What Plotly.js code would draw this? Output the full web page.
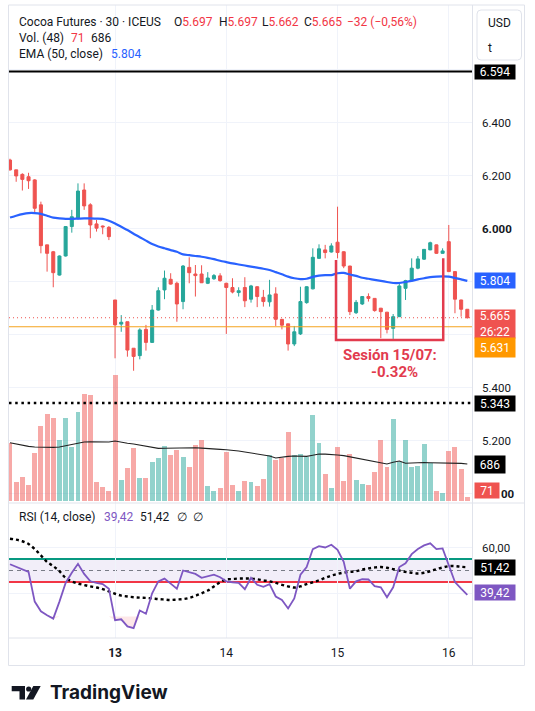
<!DOCTYPE html>
<html><head><meta charset="utf-8">
<script src="https://cdn.plot.ly/plotly-3.0.1.min.js"></script>
<style>html,body{margin:0;padding:0;background:#fff;}#chart{width:535px;height:711px;}</style>
</head><body><div id="chart"></div><script>
// ---------- DATA ----------
const barIndex = [0,1,2,3,4,5,6,7,8,9,10,11,12,13,14,15,16,17,18,19,20,21,22,23,24,25,26,27,28,29,30,31,32,33,34,35,36,37,38,39,40,41,42,43,44,45,46,47,48,49,50,51,52,53,54,55,56,57,58,59,60,61,62,63,64,65,66,67,68,69,70,71,72,73,74];
const dayTickIdx = [17, 35, 53, 71];
const dayLabels = ['13', '14', '15', '16'];

const open = [6.260,6.223,6.206,6.197,6.185,6.091,5.940,5.914,5.826,5.898,
  6.009,6.040,6.147,6.091,6.019,6.011,6.006,5.732,5.641,5.650,
  5.550,5.522,5.621,5.572,5.694,5.770,5.810,5.795,5.726,5.855,
  5.830,5.830,5.795,5.812,5.823,5.795,5.779,5.760,5.779,5.735,
  5.782,5.742,5.725,5.755,5.659,5.642,5.566,5.604,5.722,5.774,
  5.889,5.921,5.913,5.950,5.914,5.860,5.684,5.717,5.745,5.738,
  5.701,5.686,5.625,5.669,5.776,5.805,5.852,5.886,5.921,5.940,
  5.908,5.952,5.839,5.732,5.697];
const high = [6.265,6.223,6.210,6.212,6.188,6.103,5.940,5.917,5.900,6.011,
  6.072,6.172,6.172,6.097,6.034,6.013,6.011,5.732,5.675,5.650,
  5.550,5.625,5.638,5.713,5.780,5.843,5.833,5.801,5.864,5.893,
  5.864,5.863,5.837,5.830,5.833,5.797,5.814,5.780,5.818,5.789,
  5.784,5.770,5.808,5.780,5.660,5.642,5.634,5.782,5.784,5.927,
  5.942,5.940,5.946,6.084,5.916,5.861,5.732,5.747,5.757,5.739,
  5.702,5.687,5.679,5.795,5.808,5.889,5.898,5.924,5.952,5.941,
  5.927,6.015,5.840,5.733,5.697];
const low = [6.220,6.178,6.145,6.151,6.059,5.908,5.839,5.780,5.824,5.896,
  5.986,6.035,6.072,5.965,5.990,5.980,5.958,5.512,5.612,5.518,
  5.465,5.508,5.541,5.570,5.692,5.735,5.790,5.650,5.697,5.795,
  5.745,5.796,5.792,5.808,5.801,5.604,5.757,5.745,5.705,5.722,
  5.705,5.707,5.707,5.634,5.621,5.541,5.558,5.600,5.718,5.772,
  5.887,5.889,5.911,5.889,5.852,5.675,5.679,5.713,5.726,5.688,
  5.588,5.606,5.585,5.668,5.732,5.801,5.848,5.883,5.920,5.906,
  5.907,5.838,5.682,5.669,5.662];
const close = [6.223,6.200,6.187,6.182,6.078,5.937,5.908,5.835,5.898,6.009,
  6.046,6.143,6.087,6.015,6.003,6.008,5.971,5.638,5.648,5.543,
  5.519,5.619,5.572,5.694,5.767,5.814,5.792,5.717,5.860,5.835,
  5.824,5.797,5.815,5.824,5.805,5.779,5.762,5.767,5.729,5.785,
  5.745,5.726,5.751,5.659,5.637,5.566,5.612,5.726,5.782,5.893,
  5.925,5.911,5.936,5.911,5.860,5.688,5.723,5.745,5.738,5.692,
  5.688,5.621,5.669,5.785,5.805,5.852,5.887,5.923,5.948,5.908,
  5.917,5.839,5.735,5.697,5.665];
const ema50 = [6.043,6.050,6.056,6.060,6.060,6.057,6.050,6.043,6.040,6.038,
  6.038,6.039,6.040,6.040,6.039,6.038,6.031,6.021,6.008,5.996,
  5.982,5.969,5.956,5.943,5.934,5.927,5.920,5.914,5.904,5.901,
  5.898,5.895,5.891,5.886,5.880,5.875,5.870,5.866,5.862,5.858,
  5.854,5.850,5.845,5.837,5.829,5.820,5.814,5.811,5.812,5.819,
  5.824,5.826,5.826,5.833,5.834,5.828,5.823,5.816,5.812,5.808,
  5.804,5.800,5.796,5.796,5.800,5.804,5.810,5.814,5.818,5.820,
  5.821,5.820,5.815,5.810,5.804];
const volume = [1087,353,447,291,899,1400,1626,1551,1137,1551,
  1012,1664,2002,1983,348,254,179,2359,385,611,
  987,423,423,730,799,1025,855,949,818,630,
  1043,1137,273,179,235,918,291,179,367,348,
  273,404,849,761,799,1288,849,874,824,1607,
  1081,498,235,1006,367,874,385,310,291,536,
  1137,630,1532,724,1137,630,649,1062,705,179,
  141,931,1006,592,71];
const volMA48 = [1087,1060,1031,1018,1006,1000,993,998,1006,1030,
  1050,1075,1100,1105,1106,1103,1100,1119,1090,1075,
  1062,1040,1018,1000,980,983,987,990,993,993,
  993,985,974,968,962,955,949,930,912,893,
  874,855,837,799,818,830,837,833,830,852,
  874,871,868,855,843,820,799,775,749,724,
  699,686,718,743,699,708,718,714,711,708,
  705,708,711,698,686];
const rsi14 = [52.7,51.5,50.4,49.4,36.5,32.3,30.6,29.1,36.5,44.6,
  49.0,52.9,48.5,45.3,44.6,44.1,42.1,28.4,28.8,25.7,
  25.0,32.6,31.2,40.1,45.3,46.5,44.3,42.1,50.0,49.3,
  48.5,46.8,47.5,48.2,47.1,45.3,44.9,44.6,41.9,46.8,
  43.8,42.9,44.1,38.7,37.2,33.5,37.9,48.2,51.5,59.3,
  60.6,60.0,61.2,59.0,53.8,42.1,45.3,46.2,46.1,43.2,
  42.7,38.4,42.7,51.5,53.1,57.1,59.3,60.9,61.8,59.3,
  59.6,51.9,45.0,42.1,39.42];
const rsiMA = [63.8,63.4,62.7,61.5,59.3,56.6,53.7,51.9,49.7,46.8,
  45.3,44.3,43.7,43.1,42.6,41.9,40.9,39.9,39.1,38.7,
  38.4,38.2,38.1,37.9,37.6,37.4,37.2,37.4,37.6,38.1,
  39.0,40.1,41.3,43.1,44.9,46.1,46.3,46.5,46.5,46.5,
  46.2,45.7,45.3,44.6,43.8,43.1,42.6,43.1,44.1,44.9,
  45.7,46.8,47.8,48.5,49.1,49.4,49.7,50.4,50.9,51.3,
  51.5,51.2,50.6,50.0,49.4,49.0,48.7,49.0,49.7,50.6,
  51.3,51.9,51.9,51.6,51.42];
const priceTicks = [5.0, 5.2, 5.4, 5.6, 5.8, 6.0, 6.2, 6.4, 6.6];
const priceTicksHidden = [5.0, 5.6, 5.8, 6.6];   // covered by value labels on the scale
const rsiTicks = [40, 60];
const rsiTicksHidden = [40];
const rsiBands = [45, 50, 55];
const rsiOversold = 30;
const levelHigh = 6.594;      // solid black line
const levelLow = 5.343;       // dotted black line
const levelOrange = 5.631;    // orange line
const countdown = '26:22';
const header = {name: 'Cocoa Futures · 30 · ICEUS', o: '5.697', h: '5.697', l: '5.662', c: '5.665', chg: '−32 (−0,56%)'};
const sessionText = ['Sesión 15/07:', '-0.32%'];

// ---------- LAYOUT HELPERS ----------
const L = 9, R = 472, T = 5, B = 638, W = R - L, H = B - T;
const px = X => (X - L) / W;
const py = Y => (B - Y) / H;
const FONT = 'Roboto, "Liberation Sans", sans-serif';
const DARK = '#131722', RED = '#f23645', GREEN = '#089981', BLUE = '#2962ff', PURPLE = '#7e57c2';
const split = py(503);
const fmtP = v => v.toFixed(3);
const fmtR = v => v.toFixed(2).replace('.', ',');
const last = a => a[a.length - 1];
const isHidden = (v, list) => list.some(h => Math.abs(h - v) < 1e-9);

const volColors = close.map((c, i) => c >= open[i] ? 'rgba(38,166,154,0.5)' : 'rgba(239,83,80,0.5)');

const traces = [
  {type: 'bar', x: barIndex, y: volume, xaxis: 'x', yaxis: 'y', width: 0.8,
   marker: {color: volColors, line: {width: 0}}, hoverinfo: 'skip'},
  {type: 'scatter', mode: 'lines', x: barIndex, y: volMA48, xaxis: 'x', yaxis: 'y',
   line: {color: '#222', width: 1.1}, hoverinfo: 'skip'},
  {type: 'candlestick', x: barIndex, open: open, high: high, low: low, close: close,
   xaxis: 'x', yaxis: 'y2', whiskerwidth: 0,
   increasing: {line: {color: '#26a69a', width: 1}, fillcolor: '#26a69a'},
   decreasing: {line: {color: '#ef5350', width: 1}, fillcolor: '#ef5350'}, hoverinfo: 'skip'},
  {type: 'scatter', mode: 'lines', x: barIndex, y: ema50, xaxis: 'x', yaxis: 'y2',
   line: {color: BLUE, width: 2.2, shape: 'spline', smoothing: 0.6}, hoverinfo: 'skip'},
  {type: 'scatter', mode: 'lines', x: barIndex, y: barIndex.map(() => rsiOversold), xaxis: 'x', yaxis: 'y3',
   line: {width: 0}, hoverinfo: 'skip'},
  {type: 'scatter', mode: 'lines', x: barIndex, y: rsi14.map(v => Math.min(v, rsiOversold)), xaxis: 'x', yaxis: 'y3',
   line: {width: 0}, fill: 'tonexty', fillcolor: 'rgba(242,54,69,0.12)', hoverinfo: 'skip'},
  {type: 'scatter', mode: 'lines', x: barIndex, y: rsiMA, xaxis: 'x', yaxis: 'y3',
   line: {color: '#000', width: 2.4, dash: 'dot', shape: 'spline'}, hoverinfo: 'skip'},
  {type: 'scatter', mode: 'lines', x: barIndex, y: rsi14, xaxis: 'x', yaxis: 'y3',
   line: {color: PURPLE, width: 1.8}, hoverinfo: 'skip'}
];

const shapes = [
  // frame & separators
  {type: 'rect', xref: 'paper', yref: 'paper', x0: px(8.5), x1: px(524.5), y0: py(665.5), y1: py(5), line: {color: '#e0e3eb', width: 1}, layer: 'above'},
  {type: 'line', xref: 'paper', yref: 'paper', x0: px(472.5), x1: px(472.5), y0: py(665.5), y1: py(5), line: {color: '#e0e3eb', width: 1}, layer: 'above'},
  {type: 'line', xref: 'paper', yref: 'paper', x0: px(8.5), x1: px(524.5), y0: split, y1: split, line: {color: '#e0e3eb', width: 1}, layer: 'above'},
  {type: 'line', xref: 'paper', yref: 'paper', x0: px(8.5), x1: px(472.5), y0: 0, y1: 0, line: {color: '#e0e3eb', width: 1}, layer: 'above'},
  // price levels
  {type: 'line', xref: 'paper', yref: 'y2', x0: 0, x1: 1, y0: levelHigh, y1: levelHigh, line: {color: '#000', width: 2}, layer: 'above'},
  {type: 'line', xref: 'paper', yref: 'y2', x0: 0, x1: 1, y0: levelLow, y1: levelLow, line: {color: '#000', width: 2.5, dash: '2.5px,3.7px'}, layer: 'above'},
  {type: 'line', xref: 'paper', yref: 'y2', x0: 0, x1: 1, y0: levelOrange, y1: levelOrange, line: {color: '#f5a31e', width: 1.2}, layer: 'above'},
  {type: 'line', xref: 'paper', yref: 'y2', x0: 0, x1: 1, y0: last(close), y1: last(close), line: {color: '#ef5350', width: 1, dash: '1px,3px'}, layer: 'above'},
  // session bracket
  {type: 'path', xref: 'x', yref: 'y2', path: 'M 52.75,5.883 L 52.75,5.581 L 70.1,5.581 L 70.1,5.889', line: {color: '#e23b4e', width: 2.5}, layer: 'above'},
  // RSI band
  {type: 'rect', xref: 'paper', yref: 'y3', x0: 0, x1: 1, y0: rsiBands[0], y1: rsiBands[2], fillcolor: 'rgba(126,87,194,0.1)', line: {width: 0}, layer: 'between'},
  {type: 'line', xref: 'paper', yref: 'y3', x0: 0, x1: 1, y0: rsiBands[2], y1: rsiBands[2], line: {color: GREEN, width: 2}, layer: 'between'},
  {type: 'line', xref: 'paper', yref: 'y3', x0: 0, x1: 1, y0: rsiBands[1], y1: rsiBands[1], line: {color: '#787b86', width: 1, dash: '4px,4px'}, layer: 'between'},
  {type: 'line', xref: 'paper', yref: 'y3', x0: 0, x1: 1, y0: rsiBands[0], y1: rsiBands[0], line: {color: RED, width: 2}, layer: 'between'},
  // USD t box (rounded)
  {type: 'path', xref: 'paper', yref: 'paper',
   path: (() => { const x0 = 477, x1 = 521.5, y0 = 10, y1 = 60, r = 4;
     return `M ${px(x0 + r)},${py(y0)} L ${px(x1 - r)},${py(y0)} Q ${px(x1)},${py(y0)} ${px(x1)},${py(y0 + r)} L ${px(x1)},${py(y1 - r)} Q ${px(x1)},${py(y1)} ${px(x1 - r)},${py(y1)} L ${px(x0 + r)},${py(y1)} Q ${px(x0)},${py(y1)} ${px(x0)},${py(y1 - r)} L ${px(x0)},${py(y0 + r)} Q ${px(x0)},${py(y0)} ${px(x0 + r)},${py(y0)} Z`; })(),
   fillcolor: '#fff', line: {color: '#e0e3eb', width: 1}, layer: 'above'},
  // TradingView logo mark
  {type: 'path', xref: 'paper', yref: 'paper', path: `M ${px(11.7)},${py(686)} L ${px(25)},${py(686)} L ${px(25)},${py(699.5)} L ${px(19.5)},${py(699.5)} L ${px(19.5)},${py(691.3)} L ${px(11.7)},${py(691.3)} Z`, fillcolor: DARK, line: {width: 0}},
  {type: 'circle', xref: 'paper', yref: 'paper', x0: px(26.1), x1: px(31.3), y0: py(691.6), y1: py(686.4), fillcolor: DARK, line: {width: 0}},
  {type: 'path', xref: 'paper', yref: 'paper', path: `M ${px(33.3)},${py(686)} L ${px(40.7)},${py(686)} L ${px(33.3)},${py(699.5)} L ${px(26)},${py(699.5)} Z`, fillcolor: DARK, line: {width: 0}}
];

function txt(text, X, Y, size, color, extra) {
  return Object.assign({xref: 'paper', yref: 'paper', x: px(X), y: py(Y), xanchor: 'left', yanchor: 'middle',
    text: text, showarrow: false, font: {family: FONT, size: size, color: color}}, extra || {});
}
function box(text, yref, y, bg, w, h, yshift) {
  return {xref: 'paper', x: 1, xanchor: 'left', xshift: 2, yref: yref, y: y, yanchor: 'middle', yshift: yshift || 0,
    text: text, showarrow: false, bgcolor: bg, width: w, height: h, align: 'center', valign: 'middle', borderpad: 1,
    font: {family: FONT, size: 12, color: '#fff'}};
}
const red = s => `<span style="color:${RED}">${s}</span>`;

const annotations = [
  txt(header.name, 16.7, 21.7, 12, DARK),
  txt('O' + red(header.o), 171.7, 21.7, 12, DARK),
  txt('H' + red(header.h), 216.7, 21.7, 12, DARK),
  txt('L' + red(header.l), 260, 21.7, 12, DARK),
  txt('C' + red(header.c), 301.7, 21.7, 12, DARK),
  txt(red(header.chg), 345, 21.7, 12, DARK),
  txt('Vol. (48)', 16.7, 37.7, 12, DARK),
  txt(String(last(volume)), 69, 37.7, 12, RED),
  txt(String(last(volMA48)), 88.7, 37.7, 12, DARK),
  txt('EMA (50, close)', 16.7, 54.3, 12, DARK),
  txt(fmtP(last(ema50)), 109.3, 54.3, 12, BLUE),
  txt('RSI (14, close)', 17, 517, 12, DARK),
  txt(fmtR(last(rsi14)), 101.7, 517, 12, PURPLE),
  txt(fmtR(last(rsiMA)), 138.2, 517, 12, DARK),
  txt('∅', 174.7, 517, 12, DARK),
  txt('∅', 191, 517, 12, DARK),
  txt('USD', 486, 23, 12, DARK),
  txt('t', 486, 48, 12, DARK),
  // visible tail of the 5.000 scale label, partly covered by the volume label
  {xref: 'paper', x: px(499), xanchor: 'left', yref: 'y2', y: priceTicks[0], yanchor: 'middle', text: '<b>00</b>',
   showarrow: false, font: {family: FONT, size: 11.5, color: DARK}},
  // session text
  {xref: 'x', yref: 'y2', x: 61.5, y: 5.5245, text: '<b>' + sessionText[0] + '</b>', showarrow: false,
   font: {family: FONT, size: 15, color: '#e23b4e'}},
  {xref: 'x', yref: 'y2', x: 62.2, y: 5.4604, text: '<b>' + sessionText[1] + '</b>', showarrow: false,
   font: {family: FONT, size: 15, color: '#e23b4e'}},
  // price scale boxes
  box(fmtP(levelHigh), 'y2', levelHigh, '#000', 38, 12),
  box(fmtP(last(ema50)), 'y2', last(ema50), BLUE, 38, 13),
  box(fmtP(last(close)) + '<br>' + countdown, 'y2', last(close), '#ef5350', 38, 26, -6),
  box(fmtP(levelOrange), 'y2', levelOrange, '#ff9800', 38, 17, -20.5),
  box(fmtP(levelLow), 'y2', levelLow, '#000', 38, 13),
  box(String(last(volMA48)), 'y', last(volMA48), '#000', 28, 15),
  box(String(last(volume)), 'y', last(volume), '#ef5350', 22, 13, 6.5),
  box(fmtR(last(rsiMA)), 'y3', last(rsiMA), '#000', 38, 13),
  box(fmtR(last(rsi14)), 'y3', last(rsi14), PURPLE, 38, 13, 2),
  // logo text
  txt('<b>TradingView</b>', 47.5, 692.5, 19, DARK, {font: {family: 'Inter, Roboto, sans-serif', size: 19, color: DARK}})
];

const layout = {
  width: 535, height: 711,
  margin: {l: L, r: 535 - R, t: T, b: 711 - B, pad: 0},
  paper_bgcolor: '#fff', plot_bgcolor: '#fff',
  showlegend: false, hovermode: false, dragmode: false, bargap: 0,
  xaxis: {range: [-0.162, 74.757], anchor: 'y3', tickmode: 'array', tickvals: dayTickIdx,
    ticktext: dayLabels.map((d, i) => i === 0 ? '<b>' + d + '</b>' : d),
    showgrid: true, gridcolor: '#f0f3fa', gridwidth: 1, zeroline: false, showline: false, ticks: '',
    ticklabelstandoff: 6, tickfont: {family: FONT, size: 12, color: DARK}, rangeslider: {visible: false}, fixedrange: true},
  yaxis: {domain: [split, 1], range: [-47, 9315], visible: false, showgrid: false, zeroline: false, fixedrange: true},
  yaxis2: {overlaying: 'y', side: 'right', anchor: 'x', range: [4.966, 6.845], tickmode: 'array',
    tickvals: priceTicks,
    ticktext: priceTicks.map(v => isHidden(v, priceTicksHidden) ? '' : (Math.abs(v - Math.round(v)) < 1e-9 ? '<b>' + fmtP(v) + '</b>' : fmtP(v))),
    showgrid: true, gridcolor: '#f0f3fa', zeroline: false, showline: false, ticks: '', ticklabelstandoff: 9,
    tickfont: {family: FONT, size: 11.5, color: DARK}, fixedrange: true},
  yaxis3: {domain: [0, split], side: 'right', anchor: 'x', range: [20.69, 79.31], tickmode: 'array',
    tickvals: rsiTicks, ticktext: rsiTicks.map(v => isHidden(v, rsiTicksHidden) ? '' : fmtR(v)),
    showgrid: true, gridcolor: '#f0f3fa', zeroline: false,
    showline: false, ticks: '', ticklabelstandoff: 9, tickfont: {family: FONT, size: 11.5, color: DARK}, fixedrange: true},
  shapes: shapes,
  annotations: annotations
};

Plotly.newPlot('chart', traces, layout, {staticPlot: true, displayModeBar: false});
</script></body></html>
